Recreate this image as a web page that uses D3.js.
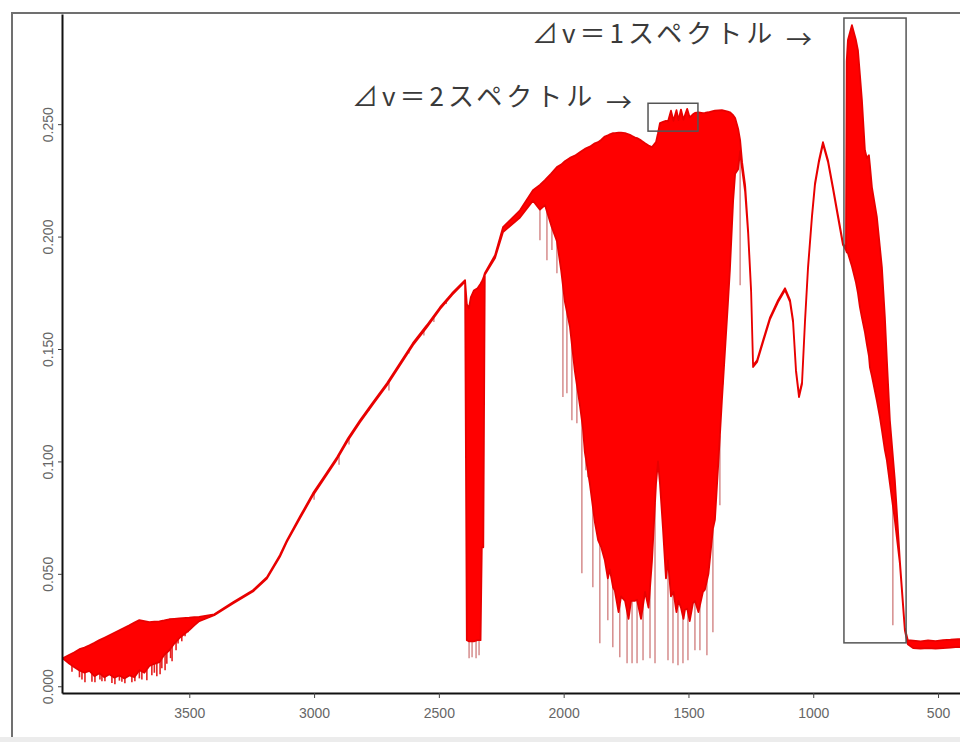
<!DOCTYPE html>
<meta charset="utf-8">
<style>
body { margin: 0; background: #fff; }
svg { display: block; }
</style>
<body>

<script src="https://cdn.jsdelivr.net/npm/d3@7"></script>

<script>
// spectrum: wavenumber (cm-1), upper and lower edge of the dense band
var wavenumber = [4005, 3980, 3960, 3940, 3920, 3900, 3880, 3860, 3840, 3820, 3800, 3780, 3760, 3740, 3720, 3700, 3680, 3660, 3640, 3620, 3600, 3580, 3560, 3540, 3500, 3480, 3460, 3400,
  3325, 3245, 3189, 3137, 3109, 3056, 3004, 2956, 2908, 2864, 2816, 2764, 2708, 2656, 2604, 2548, 2495, 2447, 2395,
  2388, 2380, 2372, 2360, 2345, 2333, 2328, 2322, 2316,
  2275, 2243, 2175, 2123, 2095, 2075, 2050, 2027, 2010, 1995, 1975, 1955, 1935, 1923, 1915, 1895, 1875, 1862, 1850, 1835, 1823, 1815,
  1802, 1795, 1780, 1770, 1754, 1740, 1730, 1714, 1706, 1690, 1674, 1660, 1646, 1630, 1622, 1614, 1602, 1590, 1582, 1570, 1560,
  1548, 1540, 1530, 1520, 1514, 1505, 1495, 1482, 1474, 1460, 1442, 1434, 1420, 1402, 1394, 1380, 1366, 1342, 1334, 1321, 1313,
  1301, 1293, 1285, 1273, 1261, 1249, 1241,
  1225, 1201, 1173, 1141, 1113, 1093, 1081, 1069, 1057, 1045, 1033, 1021, 1005, 993, 977, 961, 941, 921, 901, 881, 869,
  866, 861, 845, 829, 821, 813, 805, 793, 785, 777, 773, 765, 745, 733, 725, 713, 705, 693, 673, 653, 633, 621,
  600, 570, 540, 510, 480, 450, 420, 405];
var upper = [.0125, .0140, .0151, .0165, .0172, .0182, .0193, .0205, .0216, .0227, .0238, .0249, .0260, .0271, .0283, .0294, .0290, .0285, .0287, .0289, .0293, .0298, .0300, .0302, .0305, .0307, .0309, .0320,
  .0374, .0427, .0485, .0583, .0649, .0756, .0859, .0939, .1019, .1103, .1183, .1263, .1348, .1437, .1526, .1606, .1686, .1748, .1806,
  .1700, .1680, .1730, .1760, .1770, .1790, .1800, .1815, .1837,
  .1917, .2042, .2117, .2206, .2230, .2251, .2280, .2309, .2320, .2335, .2350, .2360, .2375, .2384, .2390, .2400, .2415, .2420, .2430, .2445, .2450, .2455,
  .2460, .2460, .2462, .2462, .2460, .2455, .2450, .2440, .2438, .2428, .2415, .2405, .2398, .2420, .2460, .2505, .2510, .2515, .2512, .2560, .2515,
  .2562, .2518, .2565, .2520, .2540, .2568, .2530, .2544, .2550, .2552, .2549, .2550, .2553, .2558, .2560, .2561, .2562, .2556, .2553, .2540, .2527,
  .2480, .2429, .2330, .2229, .2028, .1762, .1428,
  .1450, .1539, .1641, .1717, .1770, .1717, .1628, .1406, .1294, .1352, .1628, .1864, .2095, .2238, .2340, .2420, .2340, .2220, .2095, .1971, .1945,
  .2780, .2874, .2940, .2874, .2829, .2720, .2607, .2384, .2349, .2362, .2318, .2220, .2086, .1953, .1864, .1641, .1450, .1183, .0916, .0560, .0258, .0205,
  .0203, .0200, .0204, .0201, .0205, .0207, .0210, .0208];
var lower = [.0122, .0100, .0085, .0070, .0060, .0068, .0045, .0058, .0040, .0053, .0038, .0048, .0035, .0048, .0040, .0071, .0060, .0090, .0100, .0107, .0140, .0160, .0190, .0214, .0250, .0271, .0290, .0316,
  .0368, .0421, .0479, .0576, .0642, .0748, .0850, .0930, .1010, .1094, .1174, .1254, .1339, .1428, .1517, .1597, .1678, .1741, .1800,
  .0205, .0200, .0200, .0200, .0205, .0205, .0618, .0618, .1830,
  .1905, .2020, .2085, .2160, .2120, .2140, .2050, .1980, .1850, .1710, .1600, .1400, .1250, .1150, .1040, .0900, .0730, .0650, .0620, .0560, .0480, .0520,
  .0440, .0425, .0330, .0400, .0380, .0300, .0380, .0380, .0385, .0300, .0420, .0350, .0560, .0900, .1000, .0900, .0700, .0480, .0560, .0400, .0420,
  .0330, .0380, .0350, .0300, .0340, .0345, .0290, .0370, .0380, .0330, .0420, .0430, .0500, .0700, .0740, .1000, .1270, .1700, .1850, .2160, .2280,
  .2300, .2380, .2300, .2200, .2015, .1755, .1420,
  .1442, .1531, .1633, .1709, .1762, .1709, .1620, .1398, .1286, .1344, .1620, .1856, .2087, .2230, .2332, .2412, .2332, .2212, .2087, .1963, .1940,
  .1930, .1926, .1868, .1797, .1750, .1686, .1640, .1575, .1520, .1470, .1419, .1380, .1270, .1197, .1140, .1050, .1005, .0903, .0738, .0547, .0249, .0187,
  .0170, .0168, .0170, .0167, .0170, .0172, .0175, .0174];

// single absorption lines reaching below the band
var dipWavenumber = [3970, 3940, 3930, 3918, 3890, 3878, 3858, 3850, 3838, 3810, 3798, 3780, 3770, 3758, 3730, 3718, 3700, 3690, 3670, 3650, 3640, 3630, 3617, 3610, 3597, 3590, 3575, 3569, 3553, 3545, 3530, 3517, 3505,
  3000, 2900, 2860, 2780, 2700, 2620, 2560, 2520, 2470,
  2379, 2367, 2351, 2339,
  2095, 2067, 2047, 2027, 2003, 1987, 1967, 1947, 1927, 1911, 1903, 1883, 1867, 1855, 1843, 1823, 1803, 1775, 1746, 1726, 1706,
  1682, 1654, 1634, 1582, 1562, 1542, 1522, 1502, 1474, 1454, 1426, 1402, 1374, 1362, 1293,
  681];
var dipValue = [.0065, .0040, .0030, .0018, .0020, .0018, .0030, .0022, .0022, .0015, .0009, .0025, .0020, .0013, .0018, .0022, .0035, .0030, .0027, .0049, .0060, .0045, .0053, .0080, .0071, .0100, .0125, .0111, .0160, .0190, .0200, .0222, .0240,
  .0830, .0985, .1075, .1225, .1315, .1480, .1560, .1620, .1700,
  .0125, .0129, .0125, .0138,
  .1984, .1895, .1940, .1837, .1286, .1303, .1183, .1170, .0503, .0961, .0930, .0440, .0694, .0191, .0592, .0294, .0173, .0129, .0102, .0102, .0102,
  .0116, .0125, .0102, .0116, .0102, .0093, .0102, .0116, .0160, .0160, .0138, .0240, .0805, .1570, .1784,
  .0271];

var xTickValues = [3500, 3000, 2500, 2000, 1500, 1000, 500];
var yTickValues = [0, 0.05, 0.1, 0.15, 0.2, 0.25];

// the two marked regions and their notes
var boxWavenumber = [[1662, 1462], [877, 628]];
var boxValue = [[0.2593, 0.2469], [0.2972, 0.0193]];
var noteText = ["⊿v＝2スペクトル", "⊿v＝1スペクトル"];

var width = 960,
    height = 742;

var svg = d3.select("body").append("svg")
    .attr("width", width)
    .attr("height", height);

var x = d3.scaleLinear().domain([4010, 412]).range([62, 960]);
var y = d3.scaleLinear().domain([-0.003, 0.299]).range([693, 14]);

// outer frame
svg.append("rect")
    .attr("x", 0).attr("y", 737).attr("width", width).attr("height", 5)
    .attr("fill", "#ececec");
svg.append("path")
    .attr("d", "M12,737V13H960")
    .attr("fill", "none")
    .attr("stroke", "#707070")
    .attr("stroke-width", 2);

var spectrum = wavenumber.map(function(w, i) {
  return {w: w, hi: upper[i], lo: lower[i]};
});

var area = d3.area()
    .x(function(d) { return x(d.w); })
    .y0(function(d) { return y(d.lo); })
    .y1(function(d) { return y(d.hi); });

// lower edge at a given wavenumber, so each line starts inside the band
var bis = d3.bisector(function(d) { return -d.w; }).left;
function lowerAt(w) {
  var i = bis(spectrum, -w);
  if (i <= 0) return spectrum[0].lo;
  if (i >= spectrum.length) return spectrum[spectrum.length - 1].lo;
  var a = spectrum[i - 1], b = spectrum[i];
  var t = (a.w - w) / (a.w - b.w);
  return a.lo + t * (b.lo - a.lo);
}

svg.append("g")
  .selectAll("line")
  .data(dipWavenumber)
  .enter().append("line")
    .attr("x1", function(d) { return x(d); })
    .attr("x2", function(d) { return x(d); })
    .attr("y1", function(d) { return y(lowerAt(d)); })
    .attr("y2", function(d, i) { return y(dipValue[i]); })
    .attr("stroke", function(d) { return d > 3400 ? "#e52020" : "#cf7a7a"; })
    .attr("stroke-width", function(d) { return d > 3400 ? 1.6 : 1.3; });

svg.append("path")
    .datum(spectrum)
    .attr("d", area)
    .attr("fill", "#ff0000")
    .attr("stroke", "#e80000")
    .attr("stroke-width", 1.8)
    .attr("stroke-linejoin", "round");

// boxes
svg.append("g")
  .selectAll("rect")
  .data(boxWavenumber)
  .enter().append("rect")
    .attr("x", function(d) { return x(d[0]); })
    .attr("width", function(d) { return x(d[1]) - x(d[0]); })
    .attr("y", function(d, i) { return y(boxValue[i][0]); })
    .attr("height", function(d, i) { return y(boxValue[i][1]) - y(boxValue[i][0]); })
    .attr("fill", "none")
    .attr("stroke", "#555")
    .attr("stroke-width", 1.5);

// axes
var xAxis = svg.append("g")
    .attr("transform", "translate(0,693)")
    .call(d3.axisBottom(x).tickValues(xTickValues).tickFormat(d3.format("d")).tickSizeInner(5).tickSizeOuter(0));

var yAxis = svg.append("g")
    .attr("transform", "translate(62,0)")
    .call(d3.axisLeft(y).tickValues(yTickValues).tickFormat(d3.format(".3f")).tickSizeInner(4).tickSizeOuter(0));

[xAxis, yAxis].forEach(function(g) {
  g.select(".domain").attr("stroke", "#111").attr("stroke-width", 2);
  g.selectAll(".tick line").attr("stroke", "#444");
  g.selectAll(".tick text")
      .attr("fill", "#666")
      .style("font-family", "'Liberation Sans', Arial, sans-serif")
      .style("font-size", "14px");
});

xAxis.selectAll(".tick text").attr("y", 25).attr("dy", null);
yAxis.selectAll(".tick text")
    .attr("x", null).attr("dy", null)
    .attr("text-anchor", "middle")
    .attr("transform", "translate(-9,0) rotate(-90)");

// notes
var notePos = [[352, 106], [532, 43]];
noteText.forEach(function(t, i) {
  svg.append("text")
      .attr("x", notePos[i][0])
      .attr("y", notePos[i][1])
      .attr("fill", "#3a3a3a")
      .style("font-family", "'Noto Sans CJK JP', sans-serif")
      .style("font-size", "26px")
      .style("letter-spacing", "4px")
      .text(t);
  svg.append("text")
      .attr("x", notePos[i][0] + 254)
      .attr("y", notePos[i][1] + 6)
      .attr("fill", "#3a3a3a")
      .style("font-family", "'Noto Sans CJK JP', sans-serif")
      .style("font-size", "26px")
      .text("→");
});
</script>

</body>
